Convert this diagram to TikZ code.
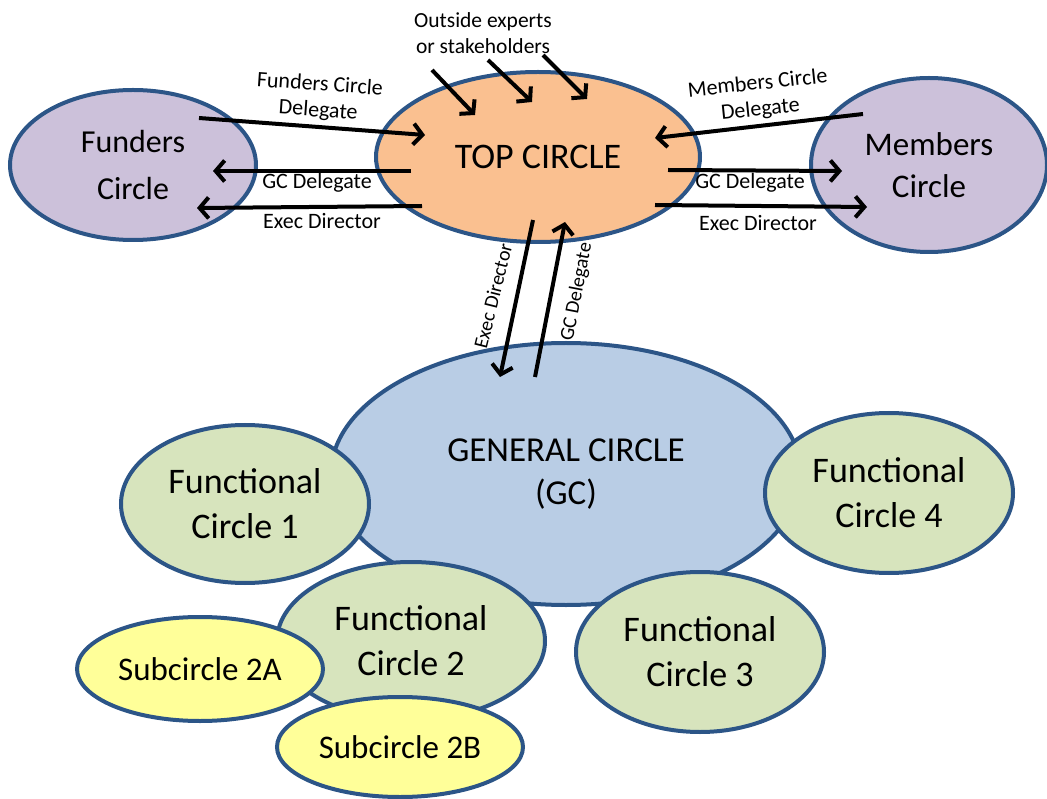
\documentclass[tikz,border=0pt]{standalone}
\usepackage{fontspec}
\setmainfont{Carlito}
\usetikzlibrary{arrows.meta,shapes.geometric,calc}
\definecolor{bord}{HTML}{2C5587}
\definecolor{lav}{HTML}{CCC1DA}
\definecolor{orng}{HTML}{FAC090}
\definecolor{gcblue}{HTML}{B9CDE5}
\definecolor{fgreen}{HTML}{D7E4BD}
\definecolor{ylw}{HTML}{FFFF99}
\begin{document}
\begin{tikzpicture}[x=1pt,y=-1pt,
  circ/.style={ellipse, draw=bord, line width=4pt, inner sep=0pt, align=center, text=black},
  arr/.style={line width=4pt, draw=black, -{Straight Barb[length=9pt,width=21pt]}},
  lbl/.style={font=\fontsize{22}{26}\selectfont, align=center, inner sep=0pt, text=black},
  vlbl/.style={font=\fontsize{20}{24}\selectfont, inner sep=0pt, text=black}
]
\useasboundingbox (0,0) rectangle (1047,799);

% lower group
\node[circ, fill=gcblue, minimum width=470pt, minimum height=262pt, font=\fontsize{35}{43}\selectfont] (gc) at (566,474) {GENERAL CIRCLE\\(GC)};
\node[circ, fill=fgreen, minimum width=248pt, minimum height=158pt, font=\fontsize{36}{45}\selectfont] (fc1) at (245,504) {Functional\\Circle 1};
\node[circ, fill=fgreen, minimum width=248pt, minimum height=160pt, font=\fontsize{36}{45}\selectfont] (fc4) at (889,493) {Functional\\Circle 4};
\node[circ, fill=fgreen, minimum width=248pt, minimum height=160pt, font=\fontsize{36}{45}\selectfont] (fc3) at (700,652) {Functional\\Circle 3};
\node[circ, fill=fgreen, minimum width=268pt, minimum height=158pt, font=\fontsize{36}{45}\selectfont] (fc2) at (411,641) {Functional\\Circle 2};
\node[circ, fill=ylw, minimum width=246pt, minimum height=104pt, font=\fontsize{33}{40}\selectfont] (s2a) at (200,669) {Subcircle 2A};
\node[circ, fill=ylw, minimum width=246pt, minimum height=100pt, font=\fontsize{33}{40}\selectfont] (s2b) at (400,747) {Subcircle 2B};

% upper group
\node[circ, fill=orng, minimum width=324pt, minimum height=170pt, font=\fontsize{36}{43}\selectfont] (top) at (538,157) {TOP CIRCLE};
\node[circ, fill=lav, minimum width=246pt, minimum height=150pt, font=\fontsize{32}{47}\selectfont] (funders) at (133,165) {Funders\\Circle};
\node[circ, fill=lav, minimum width=236pt, minimum height=174pt, font=\fontsize{33}{42}\selectfont] (members) at (929,165) {Members\\Circle};

% arrow end points
\coordinate (fdS) at ($(funders.center)+(66,-47)$);
\coordinate (fdE) at ($(top.center)+(-113,-22)$);
\coordinate (glS) at ($(top.center)+(-127,14)$);
\coordinate (glE) at ($(funders.center)+(80,6)$);
\coordinate (elS) at ($(top.center)+(-116,49)$);
\coordinate (elE) at ($(funders.center)+(64,43)$);
\coordinate (mdS) at ($(members.center)+(-66,-51)$);
\coordinate (mdE) at ($(top.center)+(117,-19)$);
\coordinate (grS) at ($(top.center)+(130,13)$);
\coordinate (grE) at ($(members.center)+(-87,6)$);
\coordinate (erS) at ($(top.center)+(117,48)$);
\coordinate (erE) at ($(members.center)+(-62,42)$);
\coordinate (evS) at ($(top.center)+(-5,63)$);
\coordinate (evE) at ($(gc.center)+(-66,-97)$);
\coordinate (gvS) at ($(gc.center)+(-31,-97)$);
\coordinate (gvE) at ($(top.center)+(27,65)$);
\coordinate (o1S) at (432,70);
\coordinate (o2S) at (488,60);
\coordinate (o3S) at (543,55);
\coordinate (o1E) at ($(top.center)+(-63,-42)$);
\coordinate (o2E) at ($(top.center)+(-6,-55)$);
\coordinate (o3E) at ($(top.center)+(49,-58)$);

% arrows
\draw[arr] (fdS) -- (fdE);
\draw[arr] (glS) -- (glE);
\draw[arr] (elS) -- (elE);
\draw[arr] (mdS) -- (mdE);
\draw[arr] (grS) -- (grE);
\draw[arr] (erS) -- (erE);
\draw[arr] (evS) -- (evE);
\draw[arr] (gvS) -- (gvE);
\draw[arr] (o1S) -- (o1E);
\draw[arr] (o2S) -- (o2E);
\draw[arr] (o3S) -- (o3E);

% labels
\node[lbl, font=\fontsize{21.5}{26}\selectfont] (outside) at (483,33) {Outside experts\\or stakeholders};
\node[lbl, rotate=-4] (fdl) at (319,98) {Funders Circle\\Delegate};
\node[lbl, rotate=6] (mdl) at (759,97) {Members Circle\\Delegate};
\node[lbl] (gcl) at (317,183) {GC Delegate};
\node[lbl] (exl) at (322,221) {Exec Director};
\node[lbl] (gcr) at (750,183) {GC Delegate};
\node[lbl] (exr) at (758,223) {Exec Director};
\node[vlbl, rotate=76] (exv) at (493,296) {Exec Director};
\node[vlbl, rotate=79] (gcv) at (577,292) {GC Delegate};
\end{tikzpicture}
\end{document}
